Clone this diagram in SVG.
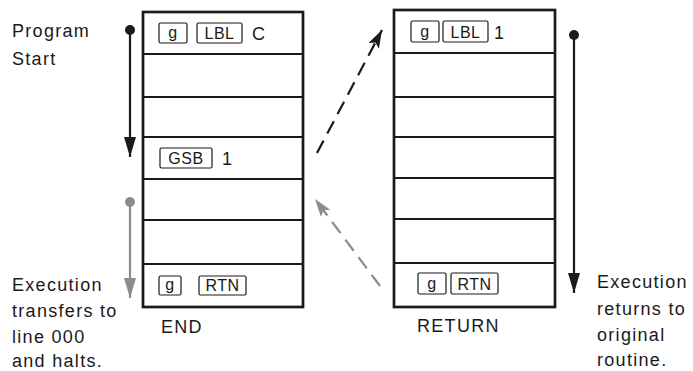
<svg xmlns="http://www.w3.org/2000/svg" width="693" height="371" viewBox="0 0 693 371">
<defs>
<style>
.t{font-family:"Liberation Sans",Arial,sans-serif;font-size:18px;fill:#1a1a1a;letter-spacing:1.3px}
.k{font-family:"Liberation Sans",Arial,sans-serif;font-size:16px;fill:#1a1a1a;letter-spacing:0.5px;text-anchor:middle}
.kb{fill:#fff;stroke:#1a1a1a;stroke-width:1.2}
.box{fill:#fff;stroke:#1a1a1a;stroke-width:2.7}
.row{stroke:#1a1a1a;stroke-width:2}
.blk{stroke:#1a1a1a;stroke-width:2.2;fill:none}
.gry{stroke:#8c8c8c;stroke-width:2.2;fill:none}
</style>
<marker id="ab" viewBox="0 0 20 12" refX="20" refY="6" markerWidth="20" markerHeight="12" markerUnits="userSpaceOnUse" orient="auto">
<path d="M0,0 L20,6 L0,12 Z" fill="#1a1a1a"/>
</marker>
<marker id="ag" viewBox="0 0 20 12" refX="20" refY="6" markerWidth="20" markerHeight="12" markerUnits="userSpaceOnUse" orient="auto">
<path d="M0,0 L20,6 L0,12 Z" fill="#8c8c8c"/>
</marker>
<marker id="db" viewBox="0 0 18 12" refX="18" refY="6" markerWidth="18" markerHeight="12" markerUnits="userSpaceOnUse" orient="auto">
<path d="M0,0 L18,6 L0,12 L4,6 Z" fill="#1a1a1a"/>
</marker>
<marker id="dg" viewBox="0 0 18 12" refX="18" refY="6" markerWidth="18" markerHeight="12" markerUnits="userSpaceOnUse" orient="auto">
<path d="M0,0 L18,6 L0,12 L4,6 Z" fill="#8c8c8c"/>
</marker>
</defs>
<rect width="693" height="371" fill="#fff"/>

<g id="end-routine">
<rect class="box" x="143" y="12" width="160" height="295"/>
<line class="row" x1="143" y1="54" x2="303" y2="54"/>
<line class="row" x1="143" y1="97" x2="303" y2="97"/>
<line class="row" x1="143" y1="137" x2="303" y2="137"/>
<line class="row" x1="143" y1="179" x2="303" y2="179"/>
<line class="row" x1="143" y1="220" x2="303" y2="220"/>
<line class="row" x1="143" y1="264" x2="303" y2="264"/>
<rect class="kb" x="159" y="23" width="28" height="20" rx="1.5"/>
<text class="k" x="173" y="38">g</text>
<rect class="kb" x="197" y="23" width="45" height="20" rx="1.5"/>
<text class="k" x="219.5" y="39">LBL</text>
<text class="t" x="252" y="40">C</text>
<rect class="kb" x="160" y="148" width="52" height="20" rx="1.5"/>
<text class="k" x="186" y="164">GSB</text>
<text class="t" x="222" y="165">1</text>
<rect class="kb" x="159" y="276" width="22" height="19" rx="1.5"/>
<text class="k" x="170" y="290">g</text>
<rect class="kb" x="199" y="276" width="47" height="19" rx="1.5"/>
<text class="k" x="222.5" y="291">RTN</text>
<text class="t" x="161" y="333">END</text>
</g>

<g id="return-routine">
<rect class="box" x="394" y="10" width="161" height="297"/>
<line class="row" x1="394" y1="53" x2="555" y2="53"/>
<line class="row" x1="394" y1="97" x2="555" y2="97"/>
<line class="row" x1="394" y1="137" x2="555" y2="137"/>
<line class="row" x1="394" y1="178" x2="555" y2="178"/>
<line class="row" x1="394" y1="219" x2="555" y2="219"/>
<line class="row" x1="394" y1="263" x2="555" y2="263"/>
<rect class="kb" x="411" y="21" width="28" height="21" rx="1.5"/>
<text class="k" x="425" y="37">g</text>
<rect class="kb" x="443" y="21" width="45" height="21" rx="1.5"/>
<text class="k" x="465.5" y="38">LBL</text>
<text class="t" x="494" y="39">1</text>
<rect class="kb" x="418" y="273" width="28" height="21" rx="1.5"/>
<text class="k" x="432" y="289">g</text>
<rect class="kb" x="451" y="273" width="47" height="21" rx="1.5"/>
<text class="k" x="474.5" y="290">RTN</text>
<text class="t" x="417" y="332">RETURN</text>
</g>

<g id="labels">
<text class="t" x="12" y="37">Program</text>
<text class="t" x="12" y="65">Start</text>
<text class="t" x="12" y="291">Execution</text>
<text class="t" x="12" y="317">transfers to</text>
<text class="t" x="12" y="343">line 000</text>
<text class="t" x="12" y="367">and halts.</text>
<text class="t" x="597" y="288">Execution</text>
<text class="t" x="597" y="315">returns to</text>
<text class="t" x="597" y="341">original</text>
<text class="t" x="597" y="366">routine.</text>
</g>

<g id="connectors">
<circle cx="130" cy="30" r="5" fill="#1a1a1a"/>
<line class="blk" x1="130" y1="30" x2="130" y2="157" marker-end="url(#ab)"/>
<circle cx="130" cy="202" r="5" fill="#8c8c8c"/>
<line class="gry" x1="130" y1="202" x2="130" y2="298" marker-end="url(#ag)"/>
<circle cx="574" cy="35" r="5" fill="#1a1a1a"/>
<line class="blk" x1="574" y1="35" x2="574" y2="293" marker-end="url(#ab)"/>
<line class="blk" x1="317" y1="153" x2="382" y2="30" stroke-dasharray="14,8" marker-end="url(#db)"/>
<line class="gry" x1="380" y1="286" x2="315" y2="199" stroke-dasharray="14,8" marker-end="url(#dg)"/>
</g>
</svg>
